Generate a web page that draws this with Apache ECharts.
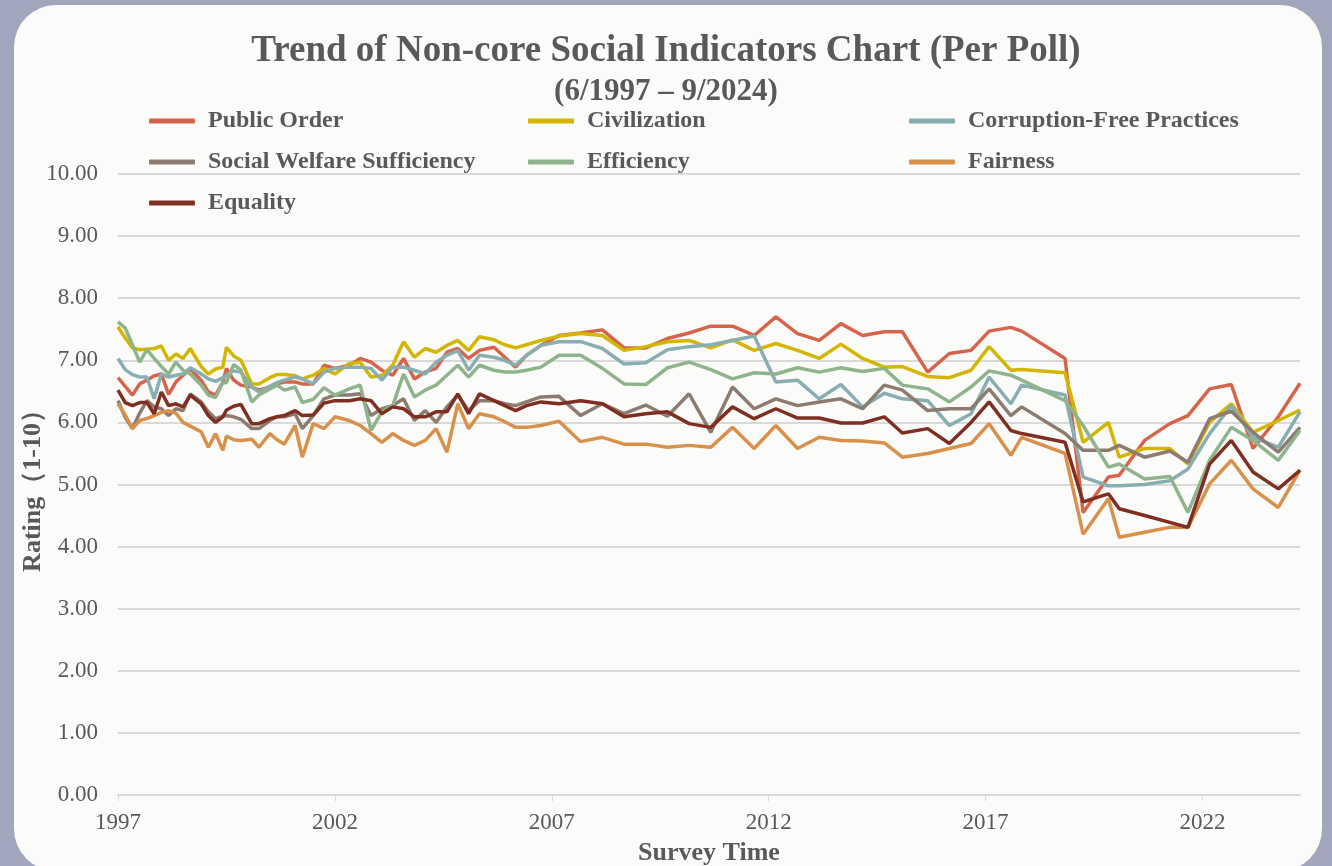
<!DOCTYPE html>
<html>
<head>
<meta charset="utf-8">
<title>Non-core Social Indicators</title>
<script src="https://cdn.jsdelivr.net/npm/echarts@6/dist/echarts.min.js"></script>
<style>
    html, body { margin: 0; padding: 0; width: 1332px; height: 866px; background: #a2a6bc; overflow: hidden; }
    .panel { position: absolute; left: 14px; top: 5px; width: 1308px; height: 866px; border-radius: 42px; background: #fbfcf9; }
    #chart { position: absolute; left: 0; top: 0; width: 1332px; height: 866px; }
</style>
</head>
<body>
<div class="panel"></div>
<div id="chart"></div>
<script>
    // poll dates (year-month)
    var pollMonth = ['1997-06','1997-08','1997-10','1997-12','1998-02','1998-04','1998-06','1998-08','1998-10','1998-12',
        '1999-02','1999-05','1999-07','1999-09','1999-11','1999-12','2000-02','2000-04','2000-07','2000-09',
        '2000-12','2001-02','2001-04','2001-07','2001-09','2001-12','2002-03','2002-06','2002-10','2003-01',
        '2003-04','2003-07','2003-10','2004-01','2004-04','2004-07','2004-10','2005-01','2005-04','2005-07',
        '2005-10','2006-02','2006-05','2006-08','2006-11','2007-03','2007-08','2008-02','2008-08','2009-02',
        '2009-08','2010-02','2010-08','2011-02','2011-08','2012-02','2012-08','2013-02','2013-08','2014-02',
        '2014-08','2015-02','2015-07','2016-02','2016-08','2017-02','2017-07','2018-01','2018-04','2019-04',
        '2019-09','2020-04','2020-07','2021-02','2021-09','2022-02','2022-08','2023-02','2023-08','2024-03',
        '2024-09']

    var publicOrder = [6.72,6.58,6.44,6.62,6.68,6.75,6.78,6.45,6.65,6.76,6.86,6.68,6.49,6.44,6.65,6.87,6.68,6.60,6.57,6.52,
        6.57,6.62,6.65,6.65,6.62,6.62,6.92,6.87,
        6.92,7.03,6.97,6.84,6.76,7.03,6.70,6.81,6.87,7.13,7.19,7.03,7.16,7.21,7.05,6.89,7.08,7.24,
        7.40,7.44,7.49,7.20,7.20,7.35,7.44,7.55,7.55,7.40,7.70,7.43,7.32,7.59,7.40,7.46,7.46,6.81,7.11,7.16,
        7.47,7.53,7.47,7.03,4.55,5.12,5.15,5.71,5.98,6.11,6.54,6.61,5.58,6.09,6.63]
    var civilization = [7.54,7.36,7.20,7.17,7.18,7.19,7.23,7.00,7.10,7.03,7.19,6.90,6.78,6.86,6.89,7.21,7.07,7.00,6.62,6.62,
        6.72,6.77,6.77,6.75,6.70,6.76,6.87,6.78,
        6.95,6.97,6.73,6.76,6.92,7.30,7.05,7.19,7.13,7.24,7.32,7.16,7.38,7.33,7.25,7.20,7.25,7.32,
        7.39,7.43,7.40,7.16,7.22,7.30,7.32,7.20,7.33,7.16,7.27,7.16,7.03,7.26,7.03,6.89,6.90,6.74,6.72,6.84,
        7.22,6.84,6.85,6.80,5.68,6.00,5.44,5.58,5.58,5.33,6.00,6.30,5.84,6.03,6.20]
    var corruptionFree = [7.03,6.85,6.77,6.73,6.73,6.38,6.78,6.73,6.76,6.78,6.88,6.78,6.70,6.66,6.72,6.76,6.83,6.81,6.57,6.49,
        6.58,6.64,6.68,6.73,6.70,6.62,6.81,6.87,
        6.89,6.89,6.87,6.68,6.89,6.89,6.84,6.78,6.97,7.08,7.16,6.84,7.08,7.05,7.00,6.92,7.08,7.24,
        7.30,7.30,7.19,6.94,6.96,7.17,7.22,7.25,7.32,7.39,6.65,6.68,6.38,6.61,6.25,6.47,6.38,6.35,5.95,6.14,
        6.73,6.30,6.60,6.44,5.12,4.98,4.98,5.00,5.06,5.25,5.82,6.27,5.76,5.60,6.17]
    var socialWelfare = [6.35,6.08,5.90,6.15,6.35,6.25,6.22,6.11,6.22,6.19,6.46,6.33,6.17,6.06,6.10,6.11,6.09,6.05,5.90,5.90,
        6.03,6.09,6.09,6.14,5.90,6.11,6.38,6.44,
        6.44,6.46,6.11,6.22,6.27,6.38,6.03,6.19,6.00,6.25,6.44,6.19,6.35,6.35,6.30,6.27,6.33,6.41,
        6.42,6.11,6.30,6.14,6.28,6.10,6.46,5.84,6.57,6.22,6.38,6.27,6.33,6.38,6.22,6.60,6.52,6.19,6.22,6.22,
        6.54,6.11,6.25,5.82,5.55,5.55,5.63,5.44,5.54,5.36,6.06,6.18,5.84,5.52,5.92]
    var efficiency = [7.62,7.52,7.25,6.97,7.17,7.03,6.90,6.78,6.97,6.84,6.78,6.60,6.44,6.40,6.65,6.64,6.93,6.84,6.33,6.44,
        6.54,6.60,6.52,6.57,6.32,6.37,6.56,6.44,
        6.54,6.60,5.87,6.17,6.27,6.78,6.41,6.52,6.60,6.76,6.92,6.73,6.92,6.84,6.81,6.81,6.84,6.89,
        7.08,7.08,6.87,6.62,6.61,6.88,6.97,6.85,6.70,6.80,6.78,6.88,6.81,6.88,6.82,6.87,6.60,6.54,6.33,6.57,
        6.83,6.76,6.68,6.35,5.95,5.28,5.33,5.09,5.13,4.55,5.39,5.92,5.71,5.39,5.87]
    var fairness = [6.30,6.12,5.90,6.03,6.06,6.11,6.16,6.19,6.15,6.00,5.94,5.85,5.60,5.82,5.55,5.78,5.72,5.71,5.73,5.60,
        5.82,5.72,5.65,5.95,5.44,5.98,5.90,6.09,
        6.03,5.95,5.82,5.68,5.82,5.71,5.63,5.71,5.90,5.52,6.30,5.90,6.14,6.09,6.01,5.92,5.92,5.95,
        6.02,5.69,5.76,5.65,5.65,5.60,5.63,5.60,5.92,5.58,5.95,5.58,5.76,5.71,5.70,5.67,5.44,5.50,5.58,5.66,
        5.98,5.47,5.76,5.50,4.20,4.77,4.15,4.23,4.31,4.31,5.01,5.39,4.93,4.63,5.23]
    var equality = [6.52,6.32,6.27,6.32,6.32,6.14,6.49,6.27,6.30,6.25,6.44,6.30,6.11,6.00,6.09,6.20,6.26,6.29,5.98,5.98,
        6.06,6.09,6.11,6.19,6.11,6.12,6.31,6.35,
        6.35,6.38,6.35,6.14,6.25,6.22,6.09,6.09,6.17,6.17,6.46,6.14,6.46,6.35,6.27,6.19,6.27,6.33,
        6.30,6.35,6.30,6.09,6.14,6.17,5.98,5.92,6.25,6.06,6.22,6.07,6.07,5.99,5.99,6.09,5.83,5.90,5.66,6.00,
        6.33,5.87,5.82,5.68,4.72,4.85,4.61,4.50,4.39,4.31,5.33,5.71,5.20,4.93,5.23]

    var seriesNames = ['Public Order', 'Civilization', 'Corruption-Free Practices', 'Social Welfare Sufficiency',
        'Efficiency', 'Fairness', 'Equality']
    var seriesValues = [publicOrder, civilization, corruptionFree, socialWelfare, efficiency, fairness, equality]
    var seriesColors = ['#d6644c', '#d3b502', '#88aeb2', '#8b7b71', '#8fb38d', '#d8904a', '#7e2f22']
    var yearTicks = [0, 60, 120, 180, 240, 300]   // months after 6/1997

    // months elapsed since the first poll (6/1997)
    function monthIndex(s) {
        var p = s.split('-')
        return (parseInt(p[0]) - 1997) * 12 + parseInt(p[1]) - 6
    }
    var xs = pollMonth.map(monthIndex)

    var textColor = '#595959'
    var serif = '"Liberation Serif", "Times New Roman", serif'

    var series = seriesNames.map(function (name, i) {
        return {
            name: name,
            type: 'line',
            showSymbol: false,
            symbol: 'none',
            color: seriesColors[i],
            lineStyle: { width: 3.5, color: seriesColors[i] },
            data: seriesValues[i].map(function (v, k) { return [xs[k], v] })
        }
    })

    function legendCol(left, names) {
        return {
            orient: 'vertical',
            left: left,
            top: 109,
            padding: 0,
            itemGap: 17,
            itemWidth: 46,
            itemHeight: 5,
            icon: 'roundRect',
            data: names,
            textStyle: { color: textColor, fontFamily: serif, fontWeight: 'bold', fontSize: 24, lineHeight: 24, padding: [0, 0, 0, 8] }
        }
    }

    var chart = echarts.init(document.getElementById('chart'))
    chart.setOption({
        backgroundColor: 'transparent',
        animation: false,
        title: [{
            text: 'Trend of Non-core Social Indicators Chart (Per Poll)',
            left: 'center',
            top: 28,
            textStyle: { color: textColor, fontFamily: serif, fontWeight: 'bold', fontSize: 37 }
        }, {
            text: '(6/1997 \u2013 9/2024)',
            left: 'center',
            top: 71,
            textStyle: { color: textColor, fontFamily: serif, fontWeight: 'bold', fontSize: 31 }
        }],
        legend: [
            legendCol(149, ['Public Order', 'Social Welfare Sufficiency', 'Equality']),
            legendCol(528, ['Civilization', 'Efficiency']),
            legendCol(909, ['Corruption-Free Practices', 'Fairness'])
        ],
        grid: { left: 118, right: 32, top: 174, bottom: 71, containLabel: false, outerBoundsMode: 'none' },
        xAxis: {
            type: 'value',
            min: 0,
            max: 327,
            interval: 60,
            name: 'Survey Time',
            nameLocation: 'middle',
            nameGap: 45,
            nameMoveOverlap: false,
            nameTextStyle: { color: textColor, fontFamily: serif, fontWeight: 'bold', fontSize: 26 },
            splitLine: { show: false },
            axisLine: { lineStyle: { color: '#d9d9d9', width: 2 } },
            axisTick: { show: true, length: 6, lineStyle: { color: '#d9d9d9', width: 1 }, customValues: yearTicks },
            axisLabel: {
                color: textColor, fontFamily: serif, fontSize: 23, margin: 16,
                customValues: yearTicks,
                formatter: function (v) { return String(1997 + v / 12) }
            }
        },
        yAxis: {
            type: 'value',
            min: 0,
            max: 10,
            interval: 1,
            name: 'Rating\uff081-10\uff09',
            nameLocation: 'middle',
            nameRotate: 90,
            nameGap: 72,
            nameMoveOverlap: false,
            nameTextStyle: { color: textColor, fontFamily: serif, fontWeight: 'bold', fontSize: 26 },
            axisLine: { show: false },
            axisTick: { show: false },
            splitLine: { lineStyle: { color: '#d9d9d9', width: 2 } },
            axisLabel: {
                color: textColor, fontFamily: serif, fontSize: 23, margin: 20,
                formatter: function (v) { return v.toFixed(2) }
            }
        },
        series: series
    })
</script>
</body>
</html>
